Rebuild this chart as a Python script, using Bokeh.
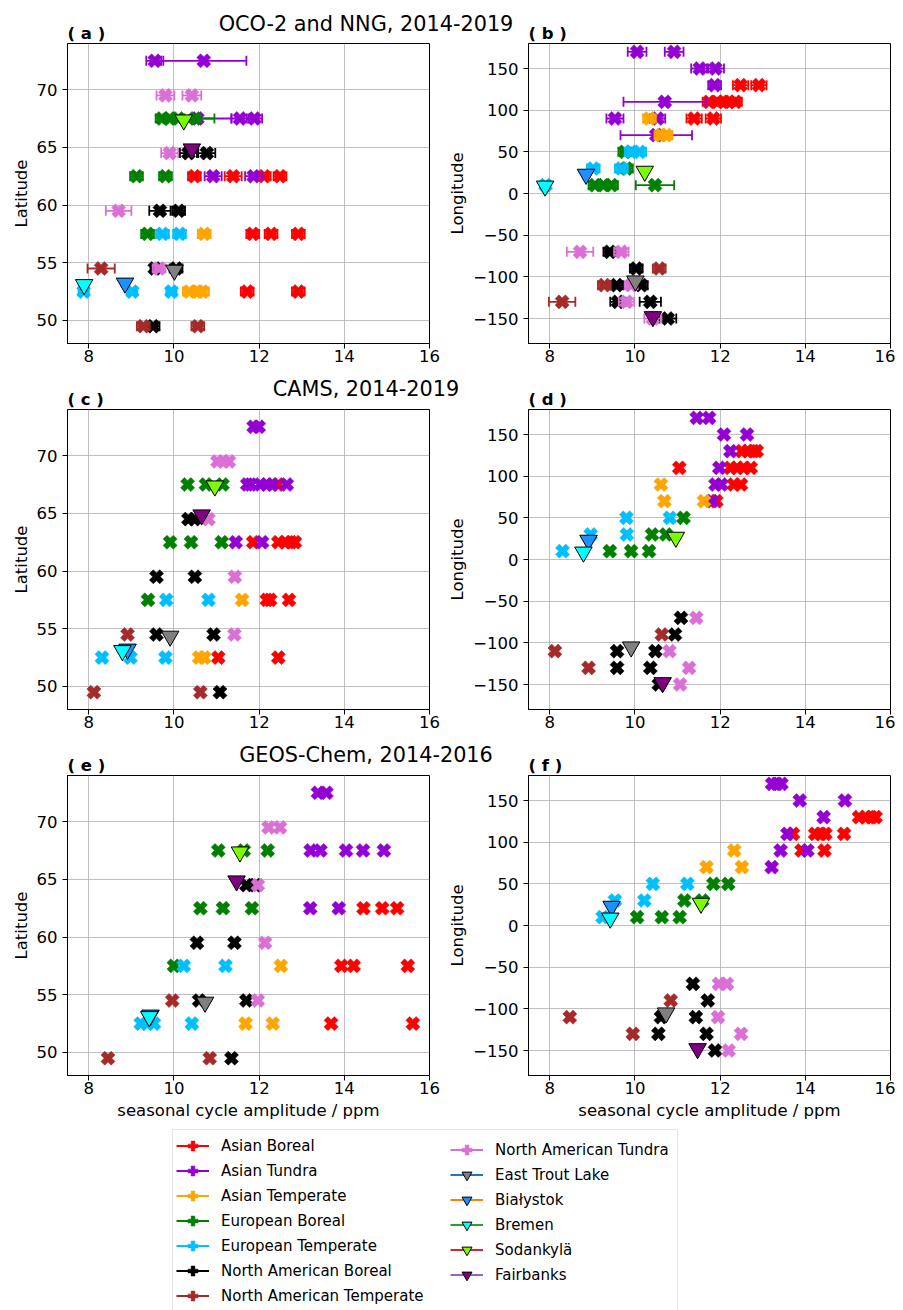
import numpy as np
from bokeh.plotting import figure
from bokeh.models import Range1d, FixedTicker, Legend, LegendItem, Div
from bokeh.layouts import row, column
from bokeh.embed import file_html
from bokeh.resources import INLINE

# ---------------- data ----------------
REGION_CODES = ["AB", "AT", "ATe", "EB", "ET", "NAB", "NATe", "NAT"]
REGION_NAMES = ["Asian Boreal", "Asian Tundra", "Asian Temperate", "European Boreal",
                "European Temperate", "North American Boreal", "North American Temperate",
                "North American Tundra"]
REGION_COLORS = ["red", "darkviolet", "orange", "green", "deepskyblue", "black", "brown", "orchid"]

STATION_NAMES = ["East Trout Lake", "Białystok", "Bremen", "Sodankylä", "Fairbanks"]
STATION_LAT = [54.35, 53.23, 53.10, 67.37, 64.86]
STATION_LON = [-104.99, 23.03, 8.85, 26.63, -147.85]
STATION_FILL = ["grey", "dodgerblue", "cyan", "lawngreen", "purple"]
STATION_LINE = ["#1f77b4", "#ff7f0e", "#2ca02c", "#d62728", "#9467bd"]
oco_station_amp = [10.01, 8.85, 7.89, 10.23, 10.42]
cams_station_amp = [9.91, 8.91, 8.79, 10.96, 10.65]
geos_station_amp = [10.73, 9.45, 9.42, 11.55, 11.47]

# (a) OCO-2 and NNG vs latitude
oco_lat_amp = {
    "AB": [10.48, 11.39, 12.12, 12.49, 11.85, 12.28, 12.92, 11.72, 12.92],
    "AT": [9.55, 10.70, 10.55, 11.55, 11.89, 10.92, 11.87],
    "ATe": [10.71, 10.36, 10.56, 10.67],
    "EB": [9.72, 9.90, 10.10, 10.50, 9.12, 9.80, 9.38],
    "ET": [9.73, 10.13, 7.88, 9.02, 9.94],
    "NAB": [10.34, 10.77, 9.67, 10.11, 9.55, 10.05, 9.51],
    "NATe": [8.29, 9.28, 10.56],
    "NAT": [9.80, 10.42, 9.90, 8.70, 9.65],
}
oco_lat_lat = {
    "AB": [62.5, 62.5, 62.5, 62.5, 57.5, 57.5, 57.5, 52.5, 52.5],
    "AT": [72.5, 72.5, 67.5, 67.5, 67.5, 62.5, 62.5],
    "ATe": [57.5, 52.5, 52.5, 52.5],
    "EB": [67.5, 67.5, 67.5, 67.5, 62.5, 62.5, 57.5],
    "ET": [57.5, 57.5, 52.5, 52.5, 52.5],
    "NAB": [64.5, 64.5, 59.5, 59.5, 54.5, 54.5, 49.5],
    "NATe": [54.5, 49.5, 49.5],
    "NAT": [69.5, 69.5, 64.5, 59.5, 54.5],
}
oco_lat_err = {
    "AB": [0.15, 0.2, 0.15, 0.15, 0.15, 0.15, 0.15, 0.15, 0.15],
    "AT": [0.2, 1.0, 0.8, 0.2, 0.18, 0.2, 0.2],
    "ATe": [0.15, 0.15, 0.15, 0.15],
    "EB": [0.15, 0.15, 0.15, 0.45, 0.15, 0.15, 0.15],
    "ET": [0.15, 0.15, 0.12, 0.12, 0.12],
    "NAB": [0.2, 0.2, 0.25, 0.15, 0.1, 0.15, 0.15],
    "NATe": [0.32, 0.15, 0.15],
    "NAT": [0.21, 0.22, 0.2, 0.3, 0.15],
}

# (b) OCO-2 and NNG vs longitude
oco_lon_amp = {
    "AB": [12.48, 12.91, 11.74, 11.93, 12.09, 12.20, 12.36, 11.39, 11.84],
    "AT": [10.05, 10.92, 11.52, 11.89, 11.87, 10.70, 9.53, 10.53, 10.50],
    "ATe": [10.34, 10.61, 10.73],
    "EB": [9.76, 9.80, 9.06, 9.26, 9.45, 10.47],
    "ET": [9.91, 10.11, 9.02, 9.68, 7.90],
    "NAB": [9.41, 10.03, 9.57, 10.15, 9.60, 10.36, 10.77],
    "NATe": [10.57, 9.28, 8.29],
    "NAT": [8.71, 9.68, 9.91, 9.80, 10.42],
}
oco_lon_lon = {
    "AB": [130, 130, 110, 110, 110, 110, 110, 90, 90],
    "AT": [170, 170, 150, 150, 130, 110, 90, 90, 70],
    "ATe": [90, 70, 70],
    "EB": [50, 30, 10, 10, 10, 10],
    "ET": [50, 50, 30, 30, 10],
    "NAB": [-70, -90, -110, -110, -130, -130, -150],
    "NATe": [-90, -110, -130],
    "NAT": [-70, -70, -110, -130, -150],
}
oco_lon_err = {
    "AB": [0.18, 0.18, 0.15, 0.15, 0.15, 0.15, 0.15, 0.18, 0.18],
    "AT": [0.22, 0.22, 0.2, 0.2, 0.15, 0.97, 0.2, 0.18, 0.84],
    "ATe": [0.15, 0.15, 0.15],
    "EB": [0.15, 0.15, 0.15, 0.15, 0.15, 0.45],
    "ET": [0.15, 0.15, 0.15, 0.15, 0.1],
    "NAB": [0.15, 0.15, 0.15, 0.15, 0.18, 0.25, 0.2],
    "NATe": [0.15, 0.15, 0.31],
    "NAT": [0.31, 0.17, 0.15, 0.18, 0.2],
}

# (c) CAMS vs latitude
cams_lat_amp = {
    "AB": [12.44, 11.86, 12.45, 12.62, 12.75, 12.84, 12.18, 12.26, 12.70, 11.04, 12.45],
    "AT": [11.87, 11.99, 11.72, 11.80, 12.03, 12.18, 12.31, 12.65, 11.45, 12.07],
    "ATe": [11.60, 10.59, 10.71],
    "EB": [10.32, 10.75, 11.14, 9.91, 10.40, 11.12, 9.39],
    "ET": [9.82, 10.81, 8.31, 8.98, 9.80],
    "NAB": [10.34, 10.48, 9.59, 10.49, 9.59, 10.93, 11.08],
    "NATe": [8.91, 8.12, 10.62],
    "NAT": [11.02, 11.16, 11.29, 10.81, 11.43, 11.42],
}
cams_lat_lat = {
    "AB": [67.5, 62.5, 62.5, 62.5, 62.5, 62.5, 57.5, 57.5, 57.5, 52.5, 52.5],
    "AT": [72.5, 72.5, 67.5, 67.5, 67.5, 67.5, 67.5, 67.5, 62.5, 62.5],
    "ATe": [57.5, 52.5, 52.5],
    "EB": [67.5, 67.5, 67.5, 62.5, 62.5, 62.5, 57.5],
    "ET": [57.5, 57.5, 52.5, 52.5, 52.5],
    "NAB": [64.5, 64.5, 59.5, 59.5, 54.5, 54.5, 49.5],
    "NATe": [54.5, 49.5, 49.5],
    "NAT": [69.5, 69.5, 69.5, 64.5, 59.5, 54.5],
}

# (d) CAMS vs longitude
cams_lon_amp = {
    "AB": [12.51, 12.65, 12.78, 12.86, 11.04, 12.24, 12.40, 12.55, 12.72, 12.32, 12.49, 11.91],
    "AT": [11.45, 11.74, 12.09, 12.63, 12.24, 11.98, 11.89, 12.03, 11.81],
    "ATe": [10.61, 10.69, 11.62],
    "EB": [11.14, 10.40, 10.73, 9.41, 9.91, 10.33],
    "ET": [9.80, 10.82, 8.96, 9.81, 8.30],
    "NAB": [11.08, 10.94, 9.58, 10.48, 9.58, 10.36, 10.56],
    "NATe": [10.63, 8.12, 8.91],
    "NAT": [11.44, 10.81, 11.27, 11.06],
}
cams_lon_lon = {
    "AB": [130, 130, 130, 130, 110, 110, 110, 110, 110, 90, 90, 70],
    "AT": [170, 170, 150, 150, 130, 110, 90, 90, 70],
    "ATe": [90, 70, 70],
    "EB": [50, 30, 30, 10, 10, 10],
    "ET": [50, 50, 30, 30, 10],
    "NAB": [-70, -90, -110, -110, -130, -130, -150],
    "NATe": [-90, -110, -130],
    "NAT": [-70, -110, -130, -150],
}

# (e) GEOS-Chem vs latitude
geos_lat_amp = {
    "AB": [14.45, 14.89, 15.24, 13.93, 14.22, 15.49, 13.69, 15.61],
    "AT": [13.38, 13.58, 13.21, 13.44, 14.04, 14.44, 14.93, 13.20, 13.87],
    "ATe": [12.51, 11.68, 12.32],
    "EB": [11.04, 11.64, 12.20, 10.62, 11.15, 11.83, 10.00],
    "ET": [10.23, 11.21, 9.22, 9.37, 9.53, 10.42],
    "NAB": [11.70, 11.91, 10.54, 11.42, 10.59, 11.70, 11.35],
    "NATe": [9.96, 8.45, 10.84],
    "NAT": [12.22, 12.49, 11.97, 12.14, 11.97],
}
geos_lat_lat = {
    "AB": [62.5, 62.5, 62.5, 57.5, 57.5, 57.5, 52.5, 52.5],
    "AT": [72.5, 72.5, 67.5, 67.5, 67.5, 67.5, 67.5, 62.5, 62.5],
    "ATe": [57.5, 52.5, 52.5],
    "EB": [67.5, 67.5, 67.5, 62.5, 62.5, 62.5, 57.5],
    "ET": [57.5, 57.5, 52.5, 52.5, 52.5, 52.5],
    "NAB": [64.5, 64.5, 59.5, 59.5, 54.5, 54.5, 49.5],
    "NATe": [54.5, 49.5, 49.5],
    "NAT": [69.5, 69.5, 64.5, 59.5, 54.5],
}

# (f) GEOS-Chem vs longitude
geos_lon_amp = {
    "AB": [15.26, 15.42, 15.55, 15.65, 13.71, 14.23, 14.36, 14.47, 14.91, 13.91, 14.45],
    "AT": [13.22, 13.33, 13.44, 13.87, 14.93, 14.43, 13.58, 13.42, 14.05, 13.21],
    "ATe": [12.33, 11.68, 12.51],
    "EB": [11.84, 12.19, 11.16, 11.58, 10.05, 10.63, 11.05],
    "ET": [10.42, 11.23, 9.53, 10.22, 9.24],
    "NAB": [11.36, 11.71, 10.61, 11.43, 10.55, 11.68, 11.88],
    "NATe": [10.84, 8.47, 9.95],
    "NAT": [11.97, 12.16, 11.95, 12.49, 12.20],
}
geos_lon_lon = {
    "AB": [130, 130, 130, 130, 110, 110, 110, 110, 110, 90, 90],
    "AT": [170, 170, 170, 150, 150, 130, 110, 90, 90, 70],
    "ATe": [90, 70, 70],
    "EB": [50, 50, 30, 30, 10, 10, 10],
    "ET": [50, 50, 30, 30, 10],
    "NAB": [-70, -90, -110, -110, -130, -130, -150],
    "NATe": [-90, -110, -130],
    "NAT": [-70, -70, -110, -130, -150],
}

X_TICKS = [8, 10, 12, 14, 16]
LAT_TICKS = [50, 55, 60, 65, 70]
LON_TICKS = [-150, -100, -50, 0, 50, 100, 150]
ROW_TITLES = ["OCO-2 and NNG, 2014-2019", "CAMS, 2014-2019", "GEOS-Chem, 2014-2016"]
XLABEL = "seasonal cycle amplitude / ppm"

# ---------------- styling ----------------
FONT = "DejaVu Sans"
FS = "16.5px"


def panel(tag, amp, coord, err, st_amp, st_coord, yrange, yticks, ylabel, xlabel,
          width, height, left, right, bottom):
    p = figure(width=width, height=height, x_range=Range1d(7.5, 16.0),
               y_range=Range1d(*yrange), output_backend="svg", toolbar_location=None,
               min_border_left=left, min_border_right=right, min_border_top=35,
               min_border_bottom=bottom, background_fill_color="white",
               border_fill_color="white")
    p.outline_line_color = "black"
    p.outline_line_alpha = 1.0
    p.outline_line_width = 1
    p.xaxis.ticker = FixedTicker(ticks=X_TICKS)
    p.yaxis.ticker = FixedTicker(ticks=yticks)
    p.yaxis.major_label_overrides = {t: str(t).replace("-", "\u2212") for t in yticks if t < 0}
    for ax in (p.xaxis[0], p.yaxis[0]):
        ax.major_label_text_font = FONT
        ax.major_label_text_font_size = FS
        ax.major_label_text_color = "black"
        ax.axis_label_text_font = FONT
        ax.axis_label_text_font_size = FS
        ax.axis_label_text_font_style = "normal"
        ax.axis_label_text_color = "black"
        ax.axis_line_color = "black"
        ax.major_tick_line_color = "black"
        ax.major_tick_out = 5
        ax.major_tick_in = 0
        ax.minor_tick_line_color = None
    p.xaxis.major_label_standoff = 1
    p.yaxis.major_label_standoff = 5
    p.yaxis.axis_label_standoff = 3
    p.xaxis.axis_label_standoff = 4
    p.yaxis.axis_label = ylabel
    if xlabel:
        p.xaxis.axis_label = xlabel
    p.grid.grid_line_color = "#b0b0b0"
    p.grid.grid_line_alpha = 0.8
    p.grid.grid_line_width = 1

    p.title.text = tag
    p.title.text_font = FONT
    p.title.text_font_size = FS
    p.title.text_font_style = "bold"
    p.title.text_color = "black"
    p.title.align = "left"
    p.title.standoff = 2

    for code, color in zip(REGION_CODES, REGION_COLORS):
        xs = amp[code]
        ys = coord[code]
        if err is not None:
            e = err[code]
            lo = [x - d for x, d in zip(xs, e)]
            hi = [x + d for x, d in zip(xs, e)]
            p.segment(x0=lo, y0=ys, x1=hi, y1=ys, line_color=color, line_width=1.8)
            p.scatter(x=lo + hi, y=ys + ys, marker="dash", angle=np.pi / 2, size=10,
                      line_color=color, line_width=1.8)
        p.scatter(x=xs, y=ys, marker="plus", angle=np.pi / 4, size=14.5,
                  fill_color=color, line_color=color, line_width=0.5)
    p.scatter(x=st_amp, y=st_coord, marker="inverted_triangle", size=17.5,
              fill_color=STATION_FILL, line_color="black", line_width=1)
    return p


LAT_R = (48.0, 74.0)
LON_R = (-180.0, 180.0)
WA, WB = 437, 450
LA, LB = 55, 79
RA, RB = 16, 5

fa = panel("( a )", oco_lat_amp, oco_lat_lat, oco_lat_err, oco_station_amp, STATION_LAT,
           LAT_R, LAT_TICKS, "Latitude", None, WA, 366, LA, RA, 31)
fb = panel("( b )", oco_lon_amp, oco_lon_lon, oco_lon_err, oco_station_amp, STATION_LON,
           LON_R, LON_TICKS, "Longitude", None, WB, 366, LB, RB, 31)
fc = panel("( c )", cams_lat_amp, cams_lat_lat, None, cams_station_amp, STATION_LAT,
           LAT_R, LAT_TICKS, "Latitude", None, WA, 366, LA, RA, 31)
fd = panel("( d )", cams_lon_amp, cams_lon_lon, None, cams_station_amp, STATION_LON,
           LON_R, LON_TICKS, "Longitude", None, WB, 366, LB, RB, 31)
fe = panel("( e )", geos_lat_amp, geos_lat_lat, None, geos_station_amp, STATION_LAT,
           LAT_R, LAT_TICKS, "Latitude", XLABEL, WA, 385, LA, RA, 50)
ff = panel("( f )", geos_lon_amp, geos_lon_lon, None, geos_station_amp, STATION_LON,
           LON_R, LON_TICKS, "Longitude", XLABEL, WB, 385, LB, RB, 50)

# ---------------- legend ----------------
LEG_H = 185
lf = figure(width=887, height=LEG_H, x_range=Range1d(0, 1), y_range=Range1d(0, 1),
            output_backend="svg", toolbar_location=None, x_axis_location=None,
            y_axis_location=None, min_border=0, border_fill_color="white",
            background_fill_color="white")
lf.grid.visible = False
lf.outline_line_color = None

items = []
for name, color in zip(REGION_NAMES, REGION_COLORS):
    r_line = lf.line(x=[np.nan], y=[np.nan], line_color=color, line_width=2)
    r_mark = lf.scatter(x=[np.nan], y=[np.nan], marker="plus", angle=np.pi / 4,
                        fill_color=color, line_color=color, line_width=0.5)
    items.append(LegendItem(label=name, renderers=[r_line, r_mark]))
for name, fill, lc in zip(STATION_NAMES, STATION_FILL, STATION_LINE):
    r_line = lf.line(x=[np.nan], y=[np.nan], line_color=lc, line_width=2)
    r_mark = lf.scatter(x=[np.nan], y=[np.nan], marker="inverted_triangle",
                        fill_color=fill, line_color="black", line_width=1)
    items.append(LegendItem(label=name, renderers=[r_line, r_mark]))

GH, PAD = 25, 3
common = dict(label_text_font=FONT, label_text_font_size="15px", label_text_color="black",
              glyph_width=33, glyph_height=GH, label_height=GH, label_standoff=12,
              spacing=0, padding=PAD, margin=0)
TOP_FROM_BOTTOM = LEG_H - 6
h1 = 2 * PAD + 7 * GH
h2 = 2 * PAD + 6 * GH
leg1 = Legend(items=items[:7], location=(164, TOP_FROM_BOTTOM - h1), border_line_color="#cccccc",
              border_line_width=1, background_fill_color="white", background_fill_alpha=1,
              label_width=453, **common)
leg2 = Legend(items=items[7:], location=(442, TOP_FROM_BOTTOM - h2), border_line_color=None,
              background_fill_alpha=0, **common)
lf.add_layout(leg1)
lf.add_layout(leg2)


# ---------------- row titles ----------------
def title_div(text, top):
    return Div(text=text, width=716, height=26, margin=0,
               styles={"position": "absolute", "top": f"{top}px", "left": "0px",
                       "z-index": "10", "font-family": FONT, "font-size": "20.8px",
                       "line-height": "26px", "text-align": "center",
                       "white-space": "nowrap", "color": "black"})


d1 = title_div(ROW_TITLES[0], 3)
d2 = title_div(ROW_TITLES[1], 368)
d3 = title_div(ROW_TITLES[2], 734)

layout = column(row(fa, fb), row(fc, fd), row(fe, ff), lf, d1, d2, d3, margin=(8, 0, 0, 8))

open("out.html", "w").write(file_html(layout, INLINE))
